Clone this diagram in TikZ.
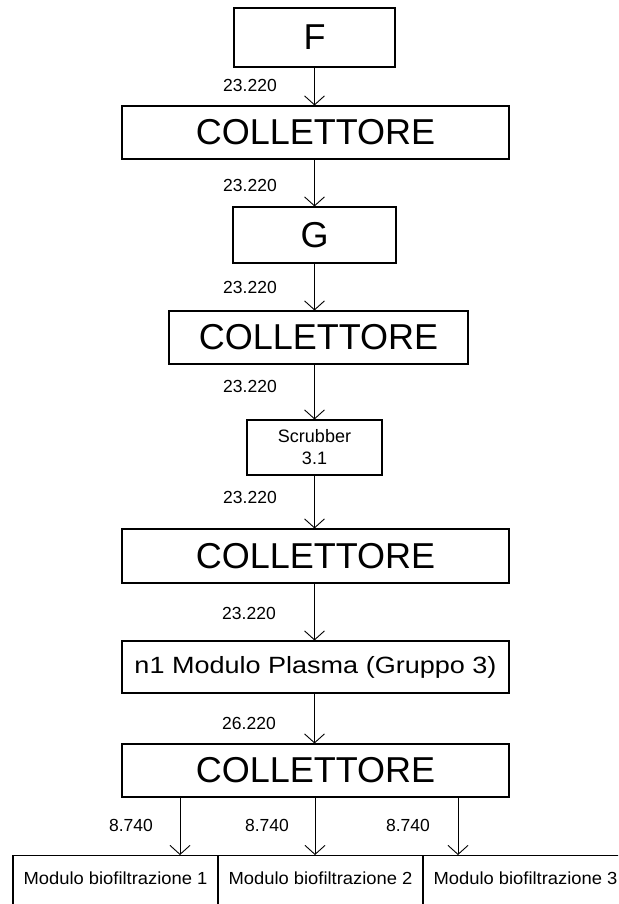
\documentclass[tikz,border=0pt]{standalone}
\usepackage{fontspec}
\setmainfont{Liberation Sans}
\newfontfamily\plasmafont[FakeStretch=1.15]{Liberation Sans}
\newfontfamily\botfont[FakeStretch=1.05]{Liberation Sans}
\usetikzlibrary{arrows.meta}
\begin{document}
\begin{tikzpicture}[x=1pt,y=-1pt,
  box/.style={draw, line width=1.1pt, inner sep=0pt, anchor=center},
  big/.style={font=\fontsize{36}{40}\selectfont},
  lab/.style={font=\fontsize{17.5}{20}\selectfont, inner sep=0pt},
  bot/.style={font=\botfont\fontsize{17.5}{20}\selectfont, text height=29pt, text depth=71pt, anchor=north},
  arr/.style={line width=0.9pt, -{Straight Barb[length=9pt,width=20pt,line width=0.9pt]}},
]
\useasboundingbox (0,0) rectangle (618,904);
\clip (0,0) rectangle (618,904);
\fill[white] (0,0) rectangle (618,904);

\node[box,big,minimum width=161pt,minimum height=59pt] (F) at (314.5,37.5) {F};
\node[box,big,minimum width=387pt,minimum height=53pt] (C1) at (315.5,132.5) {COLLETTORE};
\node[box,big,minimum width=163pt,minimum height=56pt] (G) at (314.5,235) {G};
\node[box,big,minimum width=299pt,minimum height=53pt] (C2) at (318.5,337.5) {COLLETTORE};
\node[box,font=\fontsize{18}{22}\selectfont,align=center,minimum width=135pt,minimum height=55pt] (S) at (314.5,447.5) {Scrubber\\3.1};
\node[box,big,minimum width=387pt,minimum height=54pt] (C3) at (315.5,556) {COLLETTORE};
\node[box,font=\plasmafont\fontsize{23.5}{28}\selectfont,minimum width=387pt,minimum height=52pt] (P) at (315.5,667) {n1 Modulo Plasma (Gruppo 3)};
\node[box,big,minimum width=387pt,minimum height=53pt] (C4) at (315.5,770.5) {COLLETTORE};

\node[box,bot,minimum width=205pt] (B1) at (115.5,855) {Modulo biofiltrazione 1};
\node[box,bot,minimum width=205pt] (B2) at (320.5,855) {Modulo biofiltrazione 2};
\node[box,bot,minimum width=205pt] (B3) at (525.5,855) {Modulo biofiltrazione 3};

\coordinate (a1) at (180,0);
\coordinate (a2) at (315,0);
\coordinate (a3) at (458,0);

\draw[arr] (F.south) -- (F.south |- C1.north);
\draw[arr] (C1.south -| F.south) -- (G.north);
\draw[arr] (G.south) -- (G.south |- C2.north);
\draw[arr] (C2.south -| G.south) -- (S.north);
\draw[arr] (S.south) -- (S.south |- C3.north);
\draw[arr] (C3.south -| S.south) -- (S.south |- P.north);
\draw[arr] (P.south -| S.south) -- (S.south |- C4.north);
\draw[arr] (C4.south -| a1) -- (B1.north -| a1);
\draw[arr] (C4.south -| a2) -- (B2.north -| a2);
\draw[arr] (C4.south -| a3) -- (B3.north -| a3);

\node[lab] (l1) at (250,85) {23.220};
\node[lab] (l2) at (250,185) {23.220};
\node[lab] (l3) at (250,287) {23.220};
\node[lab] (l4) at (250,386) {23.220};
\node[lab] (l5) at (250,497) {23.220};
\node[lab] (l6) at (249,613) {23.220};
\node[lab] (l7) at (249,723) {26.220};
\node[lab] (m1) at (131,825) {8.740};
\node[lab] (m2) at (267,825) {8.740};
\node[lab] (m3) at (408,825) {8.740};
\end{tikzpicture}
\end{document}
